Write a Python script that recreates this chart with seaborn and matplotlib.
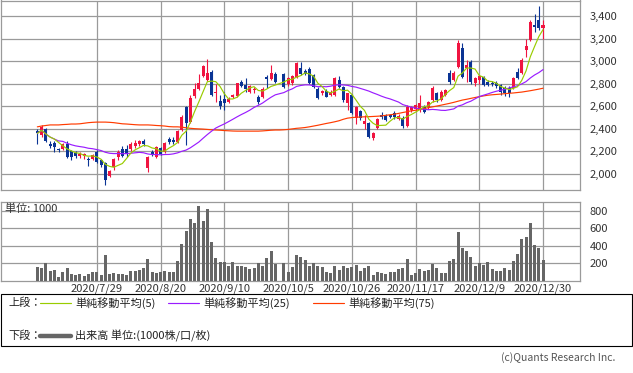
import matplotlib
matplotlib.use('Agg')
import matplotlib.pyplot as plt
from matplotlib.lines import Line2D
from matplotlib.patches import Rectangle
import numpy as np
import pandas as pd
import seaborn as sns

nan = np.nan

# trading calendar (TSE, 2020/7/7 - 2020/12/30); 10/1 was the system-outage day
jp_holidays = ['2020-07-23', '2020-07-24', '2020-08-10', '2020-09-21',
               '2020-09-22', '2020-11-03', '2020-11-23']
dates = pd.bdate_range('2020-07-07', '2020-12-30', freq='C', holidays=jp_holidays)
tick_dates = ['2020-07-29', '2020-08-20', '2020-09-10', '2020-10-05',
              '2020-10-26', '2020-11-17', '2020-12-09', '2020-12-30']

opens = [2380, 2345, 2400, 2265, 2275, 2225, 2220, 2270, 2200, 2190,
         2160, 2160, 2135, 2135, 2195, 2120, 2100, 1985, 2060, 2150,
         2225, 2220, 2225, 2245, 2265, 2295, 2055, 2195, 2150, 2230,
         2195, 2310, 2305, 2285, 2390, 2590, 2460, 2690, 2750, 2870,
         2830, 2905, 2720, 2645, 2665, 2640, 2680, 2690, 2815, 2790,
         2730, 2740, 2685, 2680, 2860, 2840, 2885, nan, 2885, 2795,
         2805, 2860, 2940, 2915, 2930, 2875, 2755, 2720, 2735, 2700,
         2700, 2830, 2770, 2630, 2700, 2495, 2560, 2445, 2450, 2315,
         2405, 2525, 2515, 2520, 2540, 2490, 2495, 2425, 2565, 2575,
         2565, 2595, 2595, 2655, 2715, 2655, 2700, 2895, 2830, 2950,
         3115, 2940, 2995, 2805, 2835, 2860, 2815, 2810, 2810, 2790,
         2760, 2760, 2760, 2905, 2895, 3100, 3190, 3320, 3365, 3290]
highs = [2400, 2430, 2410, 2290, 2290, 2235, 2275, 2290, 2215, 2200,
         2195, 2190, 2150, 2180, 2210, 2135, 2110, 2040, 2140, 2210,
         2250, 2260, 2280, 2305, 2300, 2310, 2160, 2210, 2250, 2240,
         2280, 2325, 2325, 2390, 2520, 2600, 2700, 2810, 2885, 2970,
         3020, 2920, 2800, 2700, 2730, 2680, 2710, 2810, 2830, 2850,
         2790, 2770, 2700, 2770, 2880, 2965, 2900, nan, 2895, 2860,
         2880, 2990, 2995, 2930, 2945, 2890, 2770, 2740, 2750, 2740,
         2860, 2870, 2780, 2720, 2710, 2600, 2570, 2520, 2460, 2370,
         2500, 2550, 2530, 2535, 2560, 2530, 2510, 2610, 2600, 2620,
         2700, 2610, 2650, 2780, 2730, 2740, 2750, 2920, 2910, 3185,
         3160, 3010, 3010, 2860, 2880, 2870, 2830, 2820, 2820, 2800,
         2780, 2780, 2860, 2940, 3030, 3200, 3360, 3420, 3490, 3365]
lows = [2270, 2330, 2280, 2230, 2195, 2195, 2210, 2140, 2125, 2140,
        2140, 2135, 2075, 2125, 2100, 2060, 1900, 1970, 2040, 2120,
        2150, 2150, 2200, 2230, 2250, 2250, 2020, 2160, 2140, 2170,
        2190, 2265, 2265, 2275, 2380, 2255, 2450, 2670, 2740, 2860,
        2820, 2690, 2640, 2580, 2570, 2630, 2670, 2680, 2770, 2730,
        2720, 2720, 2620, 2670, 2760, 2830, 2810, nan, 2760, 2780,
        2790, 2850, 2880, 2880, 2800, 2760, 2665, 2700, 2680, 2690,
        2690, 2760, 2640, 2565, 2530, 2440, 2480, 2400, 2320, 2300,
        2395, 2490, 2470, 2500, 2490, 2480, 2410, 2420, 2550, 2560,
        2550, 2540, 2580, 2640, 2640, 2645, 2690, 2800, 2820, 2940,
        2850, 2815, 2800, 2780, 2800, 2780, 2780, 2780, 2760, 2700,
        2690, 2680, 2750, 2840, 2890, 3040, 3180, 3260, 3280, 3195]
closes = [2360, 2415, 2290, 2245, 2240, 2210, 2265, 2155, 2155, 2160,
          2180, 2175, 2120, 2170, 2110, 2080, 1950, 2030, 2130, 2195,
          2160, 2175, 2265, 2275, 2290, 2265, 2150, 2175, 2240, 2180,
          2275, 2280, 2280, 2380, 2505, 2450, 2675, 2755, 2810, 2955,
          2895, 2700, 2730, 2600, 2630, 2665, 2700, 2805, 2780, 2750,
          2780, 2755, 2635, 2755, 2840, 2895, 2815, nan, 2770, 2850,
          2870, 2985, 2885, 2890, 2805, 2770, 2675, 2735, 2685, 2725,
          2850, 2770, 2655, 2715, 2540, 2595, 2495, 2470, 2330, 2360,
          2490, 2505, 2480, 2505, 2505, 2515, 2425, 2595, 2595, 2610,
          2630, 2550, 2640, 2760, 2655, 2725, 2740, 2815, 2895, 3160,
          2860, 2965, 2815, 2850, 2870, 2790, 2790, 2795, 2780, 2725,
          2720, 2720, 2850, 2850, 3010, 3135, 3345, 3305, 3290, 3320]
# volume, unit 1000
volume = [155, 143, 201, 116, 128, 46, 104, 151, 77, 70,
          85, 58, 85, 104, 104, 70, 302, 85, 97, 85,
          85, 70, 116, 116, 128, 151, 255, 108, 93, 104,
          116, 108, 104, 232, 426, 569, 708, 658, 851, 689,
          824, 441, 263, 213, 221, 166, 221, 166, 174, 163,
          132, 143, 201, 174, 259, 348, 190, nan, 209, 108,
          155, 302, 271, 244, 166, 201, 166, 163, 108, 97,
          174, 128, 174, 143, 155, 186, 116, 143, 174, 70,
          104, 97, 77, 104, 104, 135, 147, 255, 74, 93,
          135, 116, 128, 197, 151, 93, 93, 232, 255, 557,
          372, 337, 279, 174, 209, 186, 221, 139, 116, 116,
          151, 128, 232, 313, 476, 499, 662, 406, 372, 244]
# 75-day average as drawn (needs history before the window)
ma75 = [2418, 2425, 2430, 2435, 2435, 2435, 2438, 2440, 2443, 2443,
        2445, 2450, 2455, 2458, 2460, 2460, 2460, 2458, 2455, 2450,
        2445, 2443, 2440, 2437, 2435, 2435, 2435, 2433, 2430, 2428,
        2425, 2420, 2418, 2418, 2415, 2410, 2405, 2402, 2400, 2398,
        2395, 2392, 2390, 2388, 2385, 2383, 2381, 2380, 2380, 2380,
        2380, 2380, 2380, 2382, 2385, 2388, 2390, 2390, 2392, 2395,
        2400, 2405, 2408, 2412, 2418, 2425, 2432, 2440, 2448, 2455,
        2463, 2472, 2485, 2495, 2500, 2503, 2505, 2507, 2508, 2510,
        2512, 2515, 2520, 2525, 2530, 2537, 2545, 2552, 2560, 2565,
        2572, 2580, 2588, 2595, 2602, 2610, 2618, 2626, 2635, 2645,
        2655, 2662, 2670, 2678, 2685, 2692, 2698, 2702, 2705, 2708,
        2712, 2715, 2718, 2722, 2726, 2732, 2738, 2745, 2752, 2760]

UP = '#f01440'
DOWN = '#0a3494'
C_MA5 = '#99cc00'
C_MA25 = '#9a1cff'
C_MA75 = '#ff3b00'
C_VOL = '#666666'
C_GRID = '#9a9a9a'

df = pd.DataFrame({'date': dates, 'open': opens, 'high': highs, 'low': lows,
                   'close': closes, 'volume': volume, 'ma75': ma75})
df['idx'] = np.arange(len(df))
traded = df.dropna(subset=['close']).copy()
traded['ma5'] = traded['close'].rolling(5, min_periods=1).mean()
traded['ma25'] = traded['close'].rolling(25, min_periods=1).mean()

sns.set_style('white')
plt.rcParams['font.family'] = ['Noto Sans CJK JP', 'DejaVu Sans']

W, H = 633, 373
fig = plt.figure(figsize=(W / 100, H / 100), dpi=100)


def box(x0, y0, x1, y1):
    return [x0 / W, 1 - y1 / H, (x1 - x0) / W, (y1 - y0) / H]


ax_p = fig.add_axes(box(1, 0.5, 580, 190.3))
ax_v = fig.add_axes(box(1, 201.7, 580, 281))

# candles
up = traded[traded['close'] >= traded['open']]
dn = traded[traded['close'] < traded['open']]
for part, col in [(up, UP), (dn, DOWN)]:
    ax_p.vlines(part['idx'], part['low'], part['high'], color=col, lw=0.8, zorder=3)
    body = (part['close'] - part['open']).abs().clip(lower=6)
    ax_p.bar(part['idx'], body, bottom=part[['open', 'close']].min(axis=1),
             width=0.72, color=col, linewidth=0, zorder=4)

sns.lineplot(data=df, x='idx', y='ma75', color=C_MA75, lw=0.85, ax=ax_p, zorder=5)
sns.lineplot(data=traded, x='idx', y='ma25', color=C_MA25, lw=0.85, ax=ax_p, zorder=5)
sns.lineplot(data=traded, x='idx', y='ma5', color=C_MA5, lw=0.85, ax=ax_p, zorder=6)

sns.barplot(data=traded, x='idx', y='volume', native_scale=True, color=C_VOL,
            saturation=1, width=0.7, linewidth=0, errorbar=None, ax=ax_v, zorder=3)

tick_pos = [df.index[df['date'] == pd.Timestamp(d)][0] for d in tick_dates]
tick_lbl = [f'{pd.Timestamp(d).year}/{pd.Timestamp(d).month}/{pd.Timestamp(d).day}'
            for d in tick_dates]

for ax in (ax_p, ax_v):
    ax.set_xlim(-8.55, 127.7)
    ax.set_xticks(tick_pos)
    ax.grid(True, color=C_GRID, lw=0.9)
    ax.set_axisbelow(True)
    ax.set_xlabel('')
    ax.set_ylabel('')
    ax.yaxis.tick_right()
    ax.tick_params(length=0, labelsize=8, colors='#333333', pad=7)
    for s in ax.spines.values():
        s.set_color(C_GRID)
        s.set_linewidth(0.9)

ax_p.set_ylim(1856, 3537)
ax_p.set_yticks(range(2000, 3401, 200))
ax_p.set_yticklabels([f'{v:,}' for v in range(2000, 3401, 200)])
ax_p.set_xticklabels([])

ax_v.set_ylim(0, 905)
ax_v.set_yticks([200, 400, 600, 800])
ax_v.set_yticklabels(['200', '400', '600', '800'])
ax_v.set_xticklabels(tick_lbl)
ax_v.tick_params(axis='x', pad=2)
for lbl in ax_p.get_yticklabels() + ax_v.get_yticklabels():
    lbl.set_horizontalalignment('left')
ax_v.text(0.007, 0.91, '単位: 1000', transform=ax_v.transAxes, fontsize=8,
          color='#333333', va='center', ha='left')

# legend block
fig.add_artist(Rectangle((0.5 / W, 1 - 346 / H), 631.5 / W, 52 / H,
                         transform=fig.transFigure, fill=False,
                         edgecolor='black', lw=0.8))


def fy(y):
    return 1 - y / H


fig.text(8 / W, fy(303), '上段：', fontsize=8, va='center', color='#222222')
for x0, col, lab in [(40, C_MA5, '単純移動平均(5)'), (168, C_MA25, '単純移動平均(25)'),
                     (313, C_MA75, '単純移動平均(75)')]:
    fig.add_artist(Line2D([x0 / W, (x0 + 31) / W], [fy(303), fy(303)],
                          color=col, lw=0.85, transform=fig.transFigure))
    fig.text((x0 + 35) / W, fy(303), lab, fontsize=8, va='center', color='#222222')
fig.text(8 / W, fy(336), '下段：', fontsize=8, va='center', color='#222222')
fig.add_artist(Line2D([40 / W, 71 / W], [fy(336), fy(336)], color=C_VOL, lw=3.2,
                      transform=fig.transFigure))
fig.text(75 / W, fy(336), '出来高 単位:(1000株/口/枚)', fontsize=8, va='center',
         color='#222222')
fig.text(615 / W, fy(358), '(c)Quants Research Inc.', fontsize=7.5, va='center',
         ha='right', color='#555555')

fig.savefig('out.png', dpi=100)
